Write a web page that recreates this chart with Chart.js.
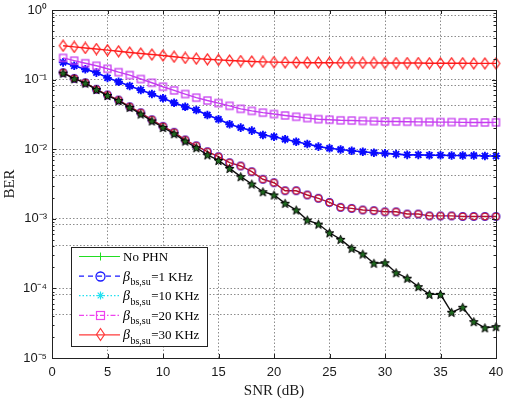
<!DOCTYPE html>
<html>
<head>
<meta charset="utf-8">
<script src="https://cdn.jsdelivr.net/npm/chart.js@4/dist/chart.umd.min.js"></script>
<style>
html,body{margin:0;padding:0;background:#fff;}
#wrap{width:505px;height:399px;position:relative;}
</style>
</head>
<body>
<div id="wrap"><canvas id="c" width="505" height="399"></canvas></div>
<script>
// ---------- data ----------
const snr = [1,2,3,4,5,6,7,8,9,10,11,12,13,14,15,16,17,18,19,20,21,22,23,24,25,26,27,28,29,30,31,32,33,34,35,36,37,38,39,40];
const seriesLabels = ['No PHN', 'β_bs,su=1 KHz', 'β_bs,su=10 KHz', 'β_bs,su=20 KHz', 'β_bs,su=30 KHz'];
const berNoPhn = [0.124,0.103,0.089,0.072,0.059,0.05,0.04,0.032,0.0255,0.0205,0.0167,0.0131,0.0105,0.0083,0.0069,0.0053,0.00403,0.00316,0.00245,0.0022,0.00167,0.00134,0.00096,0.00084,0.00063,0.000507,0.000377,0.000312,0.00023,0.000234,0.000168,0.00014,0.000106,0.0000822,0.0000822,0.0000454,0.0000535,0.0000333,0.0000272,0.0000282];
const ber1k = [0.126,0.104,0.0902,0.0726,0.0601,0.0509,0.0408,0.0334,0.0265,0.0213,0.0175,0.0136,0.0112,0.0092,0.0078,0.0064,0.00574,0.00475,0.0037,0.0033,0.00253,0.00253,0.0022,0.00197,0.00172,0.00146,0.00141,0.00134,0.00131,0.00126,0.00126,0.00117,0.00117,0.0011,0.0011,0.0011,0.00108,0.00108,0.00108,0.00108];
const ber10k = [0.177,0.158,0.141,0.126,0.106,0.0933,0.081,0.071,0.0621,0.0539,0.0466,0.0408,0.0366,0.031,0.0269,0.0228,0.0204,0.0185,0.016,0.0151,0.0139,0.0128,0.0119,0.0109,0.0103,0.0099,0.0095,0.0092,0.0089,0.0087,0.0085,0.0083,0.0083,0.0082,0.0082,0.0081,0.0081,0.0081,0.008,0.008];
const ber20k = [0.205,0.187,0.172,0.158,0.143,0.128,0.116,0.102,0.09,0.079,0.07,0.062,0.055,0.05,0.046,0.042,0.038,0.0355,0.0335,0.032,0.0305,0.0292,0.028,0.027,0.0265,0.026,0.0258,0.0255,0.0253,0.025,0.025,0.0248,0.0247,0.0246,0.0245,0.0245,0.0243,0.0242,0.0242,0.0243];
const ber30k = [0.307,0.295,0.285,0.275,0.265,0.255,0.245,0.237,0.229,0.222,0.213,0.205,0.2,0.196,0.192,0.188,0.185,0.182,0.18,0.178,0.177,0.176,0.175,0.175,0.175,0.174,0.174,0.174,0.174,0.173,0.173,0.173,0.173,0.172,0.172,0.172,0.172,0.171,0.171,0.171];
const xTicks = [0,5,10,15,20,25,30,35,40];
const yDecades = [1e-5,1e-4,1e-3,1e-2,1e-1,1];
const yGridFactors = [0.83,0.42];
const xTitle = 'SNR (dB)';
const yTitle = 'BER';

// ---------- marker images ----------
function mk(w,h,draw){const c=document.createElement('canvas');c.width=w;c.height=h;const x=c.getContext('2d');draw(x,w/2,h/2);return c;}
function pentagram(ctx,cx,cy,R,r){ctx.beginPath();for(let i=0;i<10;i++){const a=-Math.PI/2+i*Math.PI/5;const rr=i%2?r:R;const px=cx+rr*Math.cos(a),py=cy+rr*Math.sin(a);i?ctx.lineTo(px,py):ctx.moveTo(px,py);}ctx.closePath();}
const mStar5 = mk(11,11,(c,x,y)=>{pentagram(c,x,y+0.5,4.6,2);c.fillStyle='#1f6b1f';c.fill();c.strokeStyle='#000';c.lineWidth=1;c.stroke();});
const mCircle = mk(11,11,(c,x,y)=>{c.beginPath();c.arc(x,y,3.9,0,Math.PI*2);c.strokeStyle='#2a2aff';c.lineWidth=1.1;c.stroke();c.beginPath();c.arc(x,y,3.3,0,Math.PI*2);c.strokeStyle='#c8102e';c.lineWidth=1.2;c.stroke();});
const mSquare = mk(11,11,(c,x,y)=>{c.strokeStyle='#c63cf0';c.lineWidth=1.3;c.strokeRect(x-3.5,y-3.5,7,7);});
const mDiamond = mk(11,13,(c,x,y)=>{c.beginPath();c.moveTo(x,y-5.4);c.lineTo(x+3.8,y);c.lineTo(x,y+5.4);c.lineTo(x-3.8,y);c.closePath();c.strokeStyle='#ff1a1a';c.lineWidth=1.2;c.stroke();});
// legend markers
const lgPlus = mk(11,11,(c,x,y)=>{c.strokeStyle='#22dd22';c.lineWidth=1;c.beginPath();c.moveTo(x,y-4);c.lineTo(x,y+4);c.moveTo(x-4,y);c.lineTo(x+4,y);c.stroke();});
const lgCircle = mk(13,13,(c,x,y)=>{c.beginPath();c.arc(x,y,4.5,0,Math.PI*2);c.strokeStyle='#1a1aff';c.lineWidth=1.3;c.stroke();});
const lgAst = mk(11,11,(c,x,y)=>{c.strokeStyle='#22e0f0';c.lineWidth=1.2;c.beginPath();for(let i=0;i<4;i++){const a=i*Math.PI/4;c.moveTo(x-4*Math.cos(a),y-4*Math.sin(a));c.lineTo(x+4*Math.cos(a),y+4*Math.sin(a));}c.stroke();});
const lgSquare = mk(13,13,(c,x,y)=>{c.strokeStyle='#ee44ee';c.lineWidth=1.2;c.strokeRect(x-4,y-4,8,8);});
const lgDiamond = mk(13,15,(c,x,y)=>{c.beginPath();c.moveTo(x,y-6);c.lineTo(x+4,y);c.lineTo(x,y+6);c.lineTo(x-4,y);c.closePath();c.strokeStyle='#ff3b3b';c.lineWidth=1.2;c.stroke();});
const legendStyles = [
  {color:'#22dd22', dash:[], marker:lgPlus},
  {color:'#1a1aff', dash:[5,4], marker:lgCircle},
  {color:'#22e0f0', dash:[1.5,2], marker:lgAst},
  {color:'#ee44ee', dash:[5,2,1.5,2], marker:lgSquare},
  {color:'#ff3b3b', dash:[], marker:lgDiamond}
];

// ---------- plugins ----------
const framePlugin = {
  id:'frame',
  afterDatasetsDraw(chart){
    const {ctx, chartArea:a, scales:{x,y}} = chart;
    ctx.save();
    ctx.strokeStyle='#222'; ctx.lineWidth=1;
    ctx.strokeRect(Math.round(a.left)+0.5, Math.round(a.top)+0.5, Math.round(a.right-a.left), Math.round(a.bottom-a.top));
    ctx.beginPath();
    xTicks.forEach(v=>{const px=Math.round(x.getPixelForValue(v))+0.5;ctx.moveTo(px,a.bottom);ctx.lineTo(px,a.bottom-4);ctx.moveTo(px,a.top);ctx.lineTo(px,a.top+4);});
    yDecades.forEach(d=>{
      const py=Math.round(y.getPixelForValue(d))+0.5;
      ctx.moveTo(a.left,py);ctx.lineTo(a.left+4,py);ctx.moveTo(a.right,py);ctx.lineTo(a.right-4,py);
      if(d<1){for(let k=2;k<=9;k++){const q=Math.round(y.getPixelForValue(d*k))+0.5;ctx.moveTo(a.left,q);ctx.lineTo(a.left+2.5,q);ctx.moveTo(a.right,q);ctx.lineTo(a.right-2.5,q);}}
    });
    ctx.stroke();
    ctx.restore();
  }
};
const legendPlugin = {
  id:'matlabLegend',
  afterDraw(chart){
    const {ctx, chartArea:a} = chart;
    const L = a.left+19, B = a.bottom-12, W = 136, H = 99, T = B-H;
    ctx.save();
    ctx.fillStyle='#fff'; ctx.fillRect(L,T,W,H);
    ctx.strokeStyle='#222'; ctx.lineWidth=1; ctx.strokeRect(L+0.5,T+0.5,W,H);
    const rowH = 19.6;
    seriesLabels.forEach((lab,i)=>{
      const cy = T + 9.5 + i*rowH;
      const st = legendStyles[i];
      ctx.strokeStyle=st.color; ctx.lineWidth=1.2; ctx.setLineDash(st.dash);
      ctx.beginPath(); ctx.moveTo(L+8,cy); ctx.lineTo(L+49,cy); ctx.stroke();
      ctx.setLineDash([]);
      ctx.drawImage(st.marker, Math.round(L+29-st.marker.width/2), Math.round(cy-st.marker.height/2));
      ctx.fillStyle='#000'; ctx.textBaseline='alphabetic'; ctx.textAlign='left';
      let tx = L+52, by = cy+4.5;
      if(lab.indexOf('_')<0){
        ctx.font='13px "Liberation Serif"'; ctx.fillText(lab,tx,by);
      } else {
        const base = lab.split('_')[0];
        const rest = lab.split('_')[1];
        const eq = rest.indexOf('=');
        const sub = rest.slice(0,eq), tail = rest.slice(eq);
        ctx.font='italic 14px "Liberation Serif"'; ctx.fillText(base,tx,by); tx+=ctx.measureText(base).width+0.5;
        ctx.font='10px "Liberation Serif"'; ctx.fillText(sub,tx,by+4.5); tx+=ctx.measureText(sub).width+0.5;
        ctx.font='13px "Liberation Serif"'; ctx.fillText(tail,tx,by);
      }
    });
    ctx.restore();
  }
};

// ---------- chart ----------
const supMap = {'0':'⁰','1':'¹','2':'²','3':'³','4':'⁴','5':'⁵','6':'⁶','7':'⁷','8':'⁸','9':'⁹','-':'⁻'};
function decLabel(v){const e=Math.round(Math.log10(v));if(Math.abs(Math.log10(v)-e)>1e-6)return '';return '10'+String(e).split('').map(ch=>supMap[ch]).join('');}

const mkSet = (label,data,color,width,style,rad,extra)=>Object.assign({label,data,borderColor:color,backgroundColor:'rgba(0,0,0,0)',borderWidth:width,pointStyle:style,pointRadius:rad,pointHoverRadius:rad,pointBorderColor:color,pointBorderWidth:1.4,tension:0,clip:false},extra||{});

new Chart(document.getElementById('c'), {
  type:'line',
  data:{
    labels: snr,
    datasets:[
      mkSet(seriesLabels[4], snr.map((s,i)=>({x:s,y:ber30k[i]})), '#ff1a1a', 1.4, mDiamond, 5),
      mkSet(seriesLabels[3], snr.map((s,i)=>({x:s,y:ber20k[i]})), '#c63cf0', 1.4, mSquare, 5),
      mkSet(seriesLabels[2], snr.map((s,i)=>({x:s,y:ber10k[i]})), '#0a0aff', 1.6, 'star', 4.3, {pointBorderWidth:1.9}),
      mkSet(seriesLabels[0], snr.map((s,i)=>({x:s,y:berNoPhn[i]})), '#111111', 1.4, mStar5, 5),
      mkSet(seriesLabels[1], snr.map((s,i)=>({x:s,y:ber1k[i]})), '#b3102a', 1.4, mCircle, 5)
    ]
  },
  options:{
    responsive:false, animation:false, devicePixelRatio:1,
    layout:{padding:0},
    plugins:{legend:{display:false}, tooltip:{enabled:false}},
    scales:{
      x:{
        type:'linear', min:0, max:40,
        afterBuildTicks(s){ s.ticks = xTicks.map(v=>({value:v})); },
        afterFit(s){ s.height = 41; s.paddingLeft = 0; s.paddingRight = 9; },
        grid:{color:'#8c8c8c', lineWidth:1, drawTicks:false},
        border:{display:false, dash:[1.5,2]},
        ticks:{padding:7, color:'#1a1a1a', font:{family:'"Liberation Sans"', size:13}, maxRotation:0, autoSkip:false},
        title:{display:true, text:xTitle, color:'#1a1a1a', font:{family:'"Liberation Serif"', size:15}, padding:{top:0,bottom:-1}}
      },
      y:{
        type:'logarithmic', min:1e-5, max:1,
        afterBuildTicks(s){
          const t=[];
          yDecades.forEach(d=>t.push({value:d}));
          yDecades.forEach(d=>{ if(d>1e-5) yGridFactors.forEach(f=>t.push({value:d*f})); });
          t.sort((a,b)=>a.value-b.value);
          s.ticks=t;
        },
        afterFit(s){ s.width = 52; s.paddingTop = 10; s.paddingBottom = 0; },
        grid:{color:'#8c8c8c', lineWidth:1, drawTicks:false},
        border:{display:false, dash:[1.5,2]},
        ticks:{padding:5, color:'#1a1a1a', font:{family:'"Liberation Sans"', size:13}, autoSkip:false, callback:(v)=>decLabel(v)},
        title:{display:true, text:yTitle, color:'#1a1a1a', font:{family:'"Liberation Serif"', size:15}, padding:{top:1,bottom:0}}
      }
    }
  },
  plugins:[framePlugin, legendPlugin]
});
</script>
</body>
</html>
